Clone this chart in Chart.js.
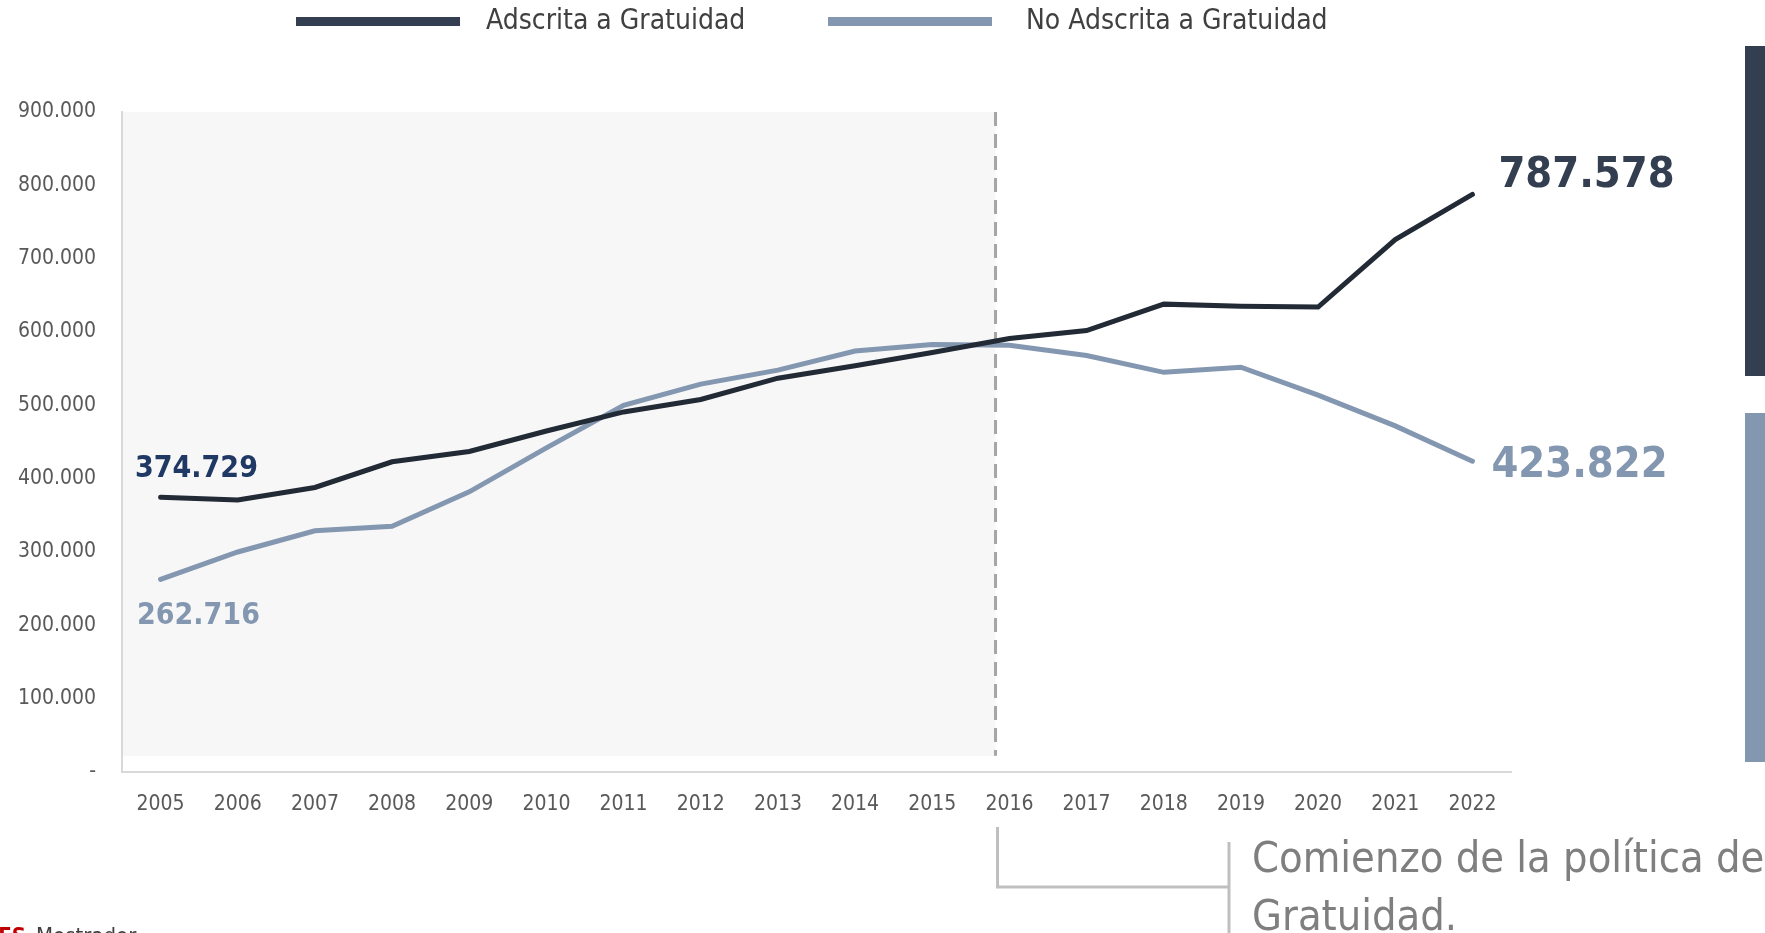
<!DOCTYPE html>
<html>
<head>
<meta charset="utf-8">
<script src="https://cdn.jsdelivr.net/npm/chart.js@4"></script>
<style>
  html, body { margin: 0; padding: 0; background: #fff; overflow: hidden; }
  #wrap { width: 1765px; height: 933px; position: relative; }
</style>
</head>
<body>
<div id="wrap"><canvas id="chart" width="1765" height="933"></canvas></div>
<script>
var years = ['2005', '2006', '2007', '2008', '2009', '2010', '2011', '2012', '2013',
    '2014', '2015', '2016', '2017', '2018', '2019', '2020', '2021', '2022'];
var adscrita = [374729, 371000, 388000, 423000, 437000, 465000, 491000, 508000, 537000,
    554000, 572000, 591000, 602000, 638000, 635000, 634000, 726000, 787578];
var noAdscrita = [262716, 300000, 329000, 335000, 382000, 442000, 500000, 529000, 548000,
    574000, 583000, 582000, 568000, 545000, 552000, 514000, 472000, 423822];
var yTicks = [0, 100000, 200000, 300000, 400000, 500000, 600000, 700000, 800000, 900000];
var seriesNames = ['Adscrita a Gratuidad', 'No Adscrita a Gratuidad'];
var policyStart = 10.82; // position of dashed line, in category index units
var noteLines = ['Comienzo de la política de', 'Gratuidad.'];

var FONT = '"Liberation Sans Narrow", "DejaVu Sans Condensed", "Open Sans", sans-serif';
var DARK = '#222a36';
var DARK_LEGEND = '#333f50';
var LIGHT = '#8497b0';

function fmt(v) {
    return String(Math.round(v)).replace(/\B(?=(\d{3})+(?!\d))/g, '.');
}

var decorPlugin = {
    id: 'decor',
    beforeDatasetsDraw: function (chart) {
        var ctx = chart.ctx;
        var x = chart.scales.x, y = chart.scales.y;
        var xs = x.getPixelForValue(policyStart);
        ctx.save();
        // grey shaded period before the policy
        ctx.fillStyle = '#f7f7f7';
        ctx.fillRect(x.left + 1, y.getPixelForValue(900000), xs - x.left - 1, y.getPixelForValue(22000) - y.getPixelForValue(900000));
        // dashed policy line
        ctx.strokeStyle = '#a6a6a6';
        ctx.lineWidth = 3;
        ctx.setLineDash([14, 8]);
        ctx.beginPath();
        ctx.moveTo(xs, y.getPixelForValue(900000));
        ctx.lineTo(xs, y.getPixelForValue(22000));
        ctx.stroke();
        ctx.restore();
    },
    afterDraw: function (chart) {
        var ctx = chart.ctx;
        var x = chart.scales.x, y = chart.scales.y;
        var xs = x.getPixelForValue(policyStart);
        var last = years.length - 1;
        ctx.save();

        // legend
        var legendItems = [
            { label: seriesNames[0], color: DARK_LEGEND, x: 296, gap: 190 },
            { label: seriesNames[1], color: LIGHT, x: 828, gap: 198 }
        ];
        ctx.font = '28px ' + FONT;
        ctx.textBaseline = 'middle';
        legendItems.forEach(function (it) {
            ctx.fillStyle = it.color;
            ctx.fillRect(it.x, 17, 164, 9);
            ctx.fillStyle = '#404040';
            ctx.fillText(it.label, it.x + it.gap, 22);
        });

        // value labels at start and end
        ctx.font = 'bold 30px ' + FONT;
        ctx.textAlign = 'left';
        ctx.fillStyle = '#1f3864';
        ctx.fillText(fmt(adscrita[0]), 135, 469);
        ctx.fillStyle = LIGHT;
        ctx.fillText(fmt(noAdscrita[0]), 137, 616);
        ctx.font = 'bold 43px ' + FONT;
        ctx.fillStyle = DARK_LEGEND;
        ctx.fillText(fmt(adscrita[last]), x.getPixelForValue(last) + 26, 176);
        ctx.fillStyle = LIGHT;
        ctx.fillText(fmt(noAdscrita[last]), x.getPixelForValue(last) + 19, 466);

        // side bars
        ctx.fillStyle = DARK_LEGEND;
        ctx.fillRect(1745, 46, 20, 330);
        ctx.fillStyle = LIGHT;
        ctx.fillRect(1745, 413, 20, 349);

        // bracket under the policy line
        ctx.strokeStyle = '#bfbfbf';
        ctx.lineWidth = 3;
        ctx.beginPath();
        ctx.moveTo(xs + 2, 827);
        ctx.lineTo(xs + 2, 887);
        ctx.lineTo(1229, 887);
        ctx.moveTo(1229, 842);
        ctx.lineTo(1229, 940);
        ctx.stroke();

        ctx.font = '43px ' + FONT;
        ctx.fillStyle = '#7f7f7f';
        ctx.textBaseline = 'middle';
        ctx.fillText(noteLines[0], 1252, 861);
        ctx.fillText(noteLines[1], 1252, 919);

        // source footnote (cut at bottom edge)
        ctx.textBaseline = 'top';
        ctx.font = 'bold 22px ' + FONT;
        ctx.fillStyle = '#c00000';
        ctx.textAlign = 'right';
        ctx.fillText('SIES', 26, 926);
        ctx.textAlign = 'left';
        ctx.font = '22px ' + FONT;
        ctx.fillStyle = '#404040';
        ctx.fillText('Mostrador', 36, 926);
        ctx.restore();
    }
};

var ctx = document.getElementById('chart').getContext('2d');
var chart = new Chart(ctx, {
    type: 'line',
    data: {
        labels: years,
        datasets: [{
            label: seriesNames[0],
            data: adscrita,
            borderColor: DARK,
            borderWidth: 5,
            pointRadius: 0,
            tension: 0,
            borderCapStyle: 'round'
        }, {
            label: seriesNames[1],
            data: noAdscrita,
            borderColor: LIGHT,
            borderWidth: 5,
            pointRadius: 0,
            tension: 0,
            borderCapStyle: 'round'
        }]
    },
    options: {
        responsive: false,
        animation: false,
        layout: { padding: { top: 112, right: 254, left: 0, bottom: 0 } },
        plugins: {
            legend: { display: false },
            tooltip: { enabled: false }
        },
        scales: {
            x: {
                offset: true,
                grid: { display: false, drawTicks: false },
                border: { color: '#d9d9d9', width: 2 },
                ticks: {
                    color: '#595959',
                    font: { family: FONT, size: 21 },
                    padding: 20,
                    maxRotation: 0,
                    autoSkip: false
                },
                afterFit: function (s) { s.height = 161; }
            },
            y: {
                min: 0,
                max: 900000,
                grid: { display: false, drawTicks: false },
                border: { color: '#d9d9d9', width: 2 },
                afterBuildTicks: function (s) {
                    s.ticks = yTicks.map(function (v) { return { value: v }; });
                },
                ticks: {
                    color: '#595959',
                    font: { family: FONT, size: 21 },
                    padding: 26,
                    callback: function (v) { return v === 0 ? '-' : fmt(v); }
                },
                afterFit: function (s) { s.width = 122; }
            }
        }
    },
    plugins: [decorPlugin]
});
</script>
</body>
</html>
